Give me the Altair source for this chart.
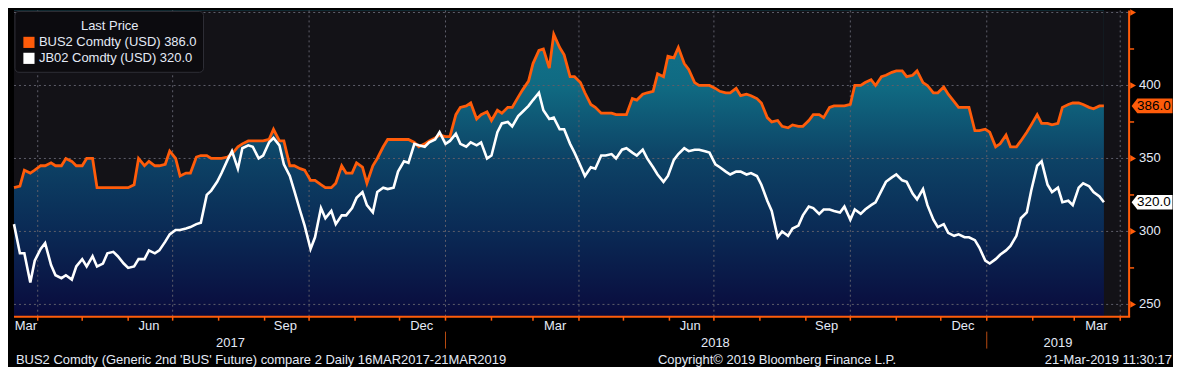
import altair as alt
import pandas as pd

# ---------------- data: readings twice a week (Thu / Mon), 16 Mar 2017 .. 21 Mar 2019 ----------------
start_date = "2017-03-16"
bus2 = [330, 331, 342, 340, 342, 345, 345, 347, 345, 345, 350, 348, 345, 345, 350, 350,
        330, 330, 330, 330, 330, 330, 330, 332, 350, 345, 348, 345, 345, 346, 355, 350,
        338, 340, 340, 351, 352, 352, 350, 350, 350, 351, 353, 358, 360, 362, 362, 362,
        362, 363, 370, 362, 362, 345, 345, 343, 342, 335, 335, 332, 330, 330, 333, 345,
        340, 340, 347, 344, 333, 345, 350, 358, 363, 363, 363, 363, 363, 361, 358, 360,
        362, 364, 366, 365, 365, 380, 385, 386, 388, 377, 380, 382, 376, 383, 381, 385,
        385, 392, 397, 403, 415, 424, 425, 412, 435, 426, 421, 406, 406, 402, 395, 387,
        385, 381, 381, 381, 380, 380, 380, 391, 390, 394, 395, 396, 408, 406, 420, 419,
        426, 415, 411, 402, 400, 400, 400, 398, 396, 395, 395, 398, 393, 394, 393, 391,
        388, 378, 375, 376, 372, 371, 373, 372, 372, 376, 380, 380, 378, 385, 386, 386,
        386, 387, 400, 400, 402, 404, 400, 406, 407, 409, 410, 410, 406, 407, 410, 402,
        400, 395, 395, 399, 394, 389, 385, 385, 385, 369, 369, 370, 368, 358, 360, 366,
        358, 358, 362, 368, 373, 380, 374, 374, 373, 374, 385, 387, 388, 388, 387, 385,
        384, 386, 386]
jb02 = [305, 285, 285, 265, 280, 288, 292, 277, 270, 268, 270, 267, 276, 281, 276, 283,
        276, 278, 285, 286, 283, 278, 275, 276, 281, 281, 287, 285, 287, 293, 298, 301,
        301, 302, 303, 305, 306, 325, 328, 334, 340, 349, 355, 343, 357, 359, 358, 350,
        352, 361, 364, 359, 346, 338, 328, 314, 304, 288, 296, 316, 309, 314, 305, 311,
        311, 316, 323, 327, 318, 313, 327, 330, 329, 330, 341, 348, 347, 360, 359, 358,
        361, 363, 368, 360, 362, 367, 360, 358, 361, 359, 361, 350, 352, 368, 374, 375,
        372, 379, 382, 386, 390, 395, 383, 377, 378, 370, 370, 360, 354, 345, 338, 344,
        343, 352, 352, 353, 350, 356, 357, 354, 352, 356, 350, 344, 339, 334, 338, 349,
        353, 357, 355, 356, 356, 355, 354, 346, 344, 341, 339, 341, 341, 339, 340, 338,
        332, 321, 314, 296, 300, 297, 302, 304, 311, 317, 316, 312, 315, 315, 314, 313,
        317, 308, 315, 312, 315, 318, 320, 328, 334, 337, 339, 335, 334, 326, 322, 329,
        318, 308, 303, 305, 299, 297, 298, 296, 296, 294, 289, 280, 278, 281, 284, 287,
        290, 297, 309, 313, 328, 345, 348, 332, 327, 330, 320, 321, 318, 330, 333, 331,
        327, 324, 320]
thursdays = pd.date_range(start_date, periods=106, freq="7D")
mondays = pd.date_range("2017-03-20", periods=105, freq="7D")
dates = thursdays.append(mondays).sort_values()

y_min, y_max = 241.6, 451.4
grid_dates = ["2017-04-01", "2017-07-01", "2017-10-01", "2018-01-01", "2018-04-01",
              "2018-07-01", "2018-10-01", "2019-01-01", "2019-04-01"]
y_grid = [250, 300, 350, 400, 450]
y_labels = [250, 300, 350, 400]
y_minor = [275, 325, 375, 425]
month_tick_dates = pd.date_range("2017-04-01", "2019-04-01", freq="MS")
month_label_dates = ["2017-03-24", "2017-06-15", "2017-09-15", "2017-12-16", "2018-03-16",
                     "2018-06-15", "2018-09-15", "2018-12-16", "2019-03-16"]
month_labels = ["Mar", "Jun", "Sep", "Dec", "Mar", "Jun", "Sep", "Dec", "Mar"]
year_label_dates = ["2017-08-09", "2018-07-02", "2019-02-18"]
year_labels = ["2017", "2018", "2019"]
year_break_dates = ["2018-01-01", "2019-01-01"]

names = ["BUS2 Comdty (USD)", "JB02 Comdty (USD)"]
footer_left = "BUS2 Comdty (Generic 2nd 'BUS' Future) compare 2  Daily 16MAR2017-21MAR2019"
footer_mid = "Copyright\u00a9 2019 Bloomberg Finance L.P."
footer_right = "21-Mar-2019 11:30:17"

# ---------------- styling ----------------
W, H = 1118, 307
ORANGE = "#ff5c0a"
WHITE = "#ffffff"
TXT = "#e4eaf6"
GRID = "#5e5e6a"
BG = "#131217"
FONT = "Liberation Sans"
FS = 13

df = pd.DataFrame({"date": dates, "BUS2": bus2, "JB02": jb02})
df["top"] = y_max
one = pd.DataFrame({"k": [0]})
span = pd.DataFrame({"start": [dates[0]], "end": [dates[-1]]})

XS = alt.Scale(domain=[alt.DateTime(year=2017, month=3, date=16),
                       alt.DateTime(year=2019, month=4, date=7)])
YS = alt.Scale(domain=[y_min, y_max], zero=False, nice=False)


def X(field="date"):
    return alt.X(f"{field}:T", scale=XS, axis=None)


def Y(field):
    return alt.Y(f"{field}:Q", scale=YS, axis=None)


# vertical gradient over the whole plot height (Bloomberg style), masked above the line
grad = alt.Gradient(
    gradient="linear",
    stops=[alt.GradientStop(color="#12768e", offset=0),
           alt.GradientStop(color="#106a82", offset=0.25),
           alt.GradientStop(color="#0d4366", offset=0.48),
           alt.GradientStop(color="#0a2a55", offset=0.72),
           alt.GradientStop(color="#0a0f40", offset=0.96),
           alt.GradientStop(color="#08093a", offset=1)],
    x1=0, x2=0, y1=0, y2=1)

fill_rect = alt.Chart(span).mark_rect(fill=grad).encode(
    x=X("start"), x2="end:T", y=alt.value(0), y2=alt.value(H))
mask = alt.Chart(df).mark_area(fill=BG, opacity=1).encode(
    x=X(), y=Y("BUS2"), y2="top:Q")

vgrid = alt.Chart(pd.DataFrame({"date": pd.to_datetime(grid_dates)})).mark_rule(
    color=GRID, strokeDash=[2, 3], strokeWidth=1).encode(
    x=X(), y=alt.value(0), y2=alt.value(H))

hgrid = alt.Chart(pd.DataFrame({"v": y_grid})).mark_rule(
    color=GRID, strokeDash=[2, 3], strokeWidth=1).encode(
    y=Y("v"), x=alt.value(0), x2=alt.value(W))

line_o = alt.Chart(df).mark_line(color=ORANGE, strokeWidth=2.8).encode(x=X(), y=Y("BUS2"))
line_w = alt.Chart(df).mark_line(color=WHITE, strokeWidth=2.6).encode(x=X(), y=Y("JB02"))

# axes drawn by hand
x_axis = alt.Chart(one).mark_rule(color=ORANGE, strokeWidth=2).encode(
    x=alt.value(0), x2=alt.value(W + 1), y=alt.value(H))
y_axis = alt.Chart(one).mark_rule(color=ORANGE, strokeWidth=2).encode(
    x=alt.value(W), y=alt.value(0), y2=alt.value(H))

mticks = alt.Chart(pd.DataFrame({"date": month_tick_dates})).mark_rule(
    color=ORANGE, strokeWidth=1.5).encode(x=X(), y=alt.value(H), y2=alt.value(H + 4))

mlabels = alt.Chart(pd.DataFrame({"date": pd.to_datetime(month_label_dates), "t": month_labels})).mark_text(
    font=FONT, fontSize=FS, color=TXT, baseline="middle", align="center").encode(
    x=X(), y=alt.value(H + 9), text="t:N")

ylab = alt.Chart(pd.DataFrame({"date": pd.to_datetime(year_label_dates), "t": year_labels})).mark_text(
    font=FONT, fontSize=FS, color=TXT, baseline="middle", align="center").encode(
    x=X(), y=alt.value(H + 26), text="t:N")

ybreak = alt.Chart(pd.DataFrame({"date": pd.to_datetime(year_break_dates)})).mark_rule(
    color="#b84a10", strokeWidth=1).encode(x=X(), y=alt.value(H + 15), y2=alt.value(H + 32))

ytri = alt.Chart(pd.DataFrame({"v": y_grid})).mark_point(
    shape="triangle-right", filled=True, color=ORANGE, size=45, opacity=1).encode(
    y=Y("v"), x=alt.value(W + 4))

yminor = alt.Chart(pd.DataFrame({"v": y_minor})).mark_rule(color=ORANGE, strokeWidth=1.5).encode(
    y=Y("v"), x=alt.value(W), x2=alt.value(W + 5))

ytext = alt.Chart(pd.DataFrame({"v": y_labels})).mark_text(
    font=FONT, fontSize=FS, color=TXT, align="left", baseline="middle").encode(
    y=Y("v"), x=alt.value(W + 10), text="v:Q")

# last-value tags
last = pd.DataFrame({"v": [bus2[-1], jb02[-1]],
                     "fill": [ORANGE, WHITE],
                     "t": [f"{bus2[-1]:.1f}", f"{jb02[-1]:.1f}"]})
tag_shape = "M-1,0 L-0.72,-0.36 L1,-0.36 L1,0.36 L-0.72,0.36 Z"
tags = alt.Chart(last).mark_point(shape=tag_shape, filled=True, size=1681, opacity=1).encode(
    y=Y("v"), x=alt.value(W + 23), fill=alt.Fill("fill:N", scale=None), stroke=alt.value(None))
tag_text = alt.Chart(last).mark_text(
    font=FONT, fontSize=13.5, color="#000000", align="left", baseline="middle").encode(
    y=Y("v"), x=alt.value(W + 8), text="t:N")

# legend box
leg_box = alt.Chart(one).mark_rect(fill="#0c0b0f", stroke="#2e2e36", strokeWidth=1, cornerRadius=4).encode(
    x=alt.value(1), x2=alt.value(190), y=alt.value(1), y2=alt.value(62))
leg_title = alt.Chart(one).mark_text(text="Last Price", font=FONT, fontSize=FS, color=TXT,
                                     align="center", baseline="middle").encode(
    x=alt.value(96), y=alt.value(16))
leg_layers = []
for i, (nm, val, col) in enumerate(zip(names, [bus2[-1], jb02[-1]], [ORANGE, WHITE])):
    yy = 32 + 16 * i
    leg_layers.append(alt.Chart(one).mark_square(size=125, filled=True, color=col, opacity=1).encode(
        x=alt.value(15), y=alt.value(yy)))
    leg_layers.append(alt.Chart(one).mark_text(text=f"{nm} {val:.1f}", font=FONT, fontSize=FS, color=TXT,
                                               align="left", baseline="middle").encode(
        x=alt.value(25), y=alt.value(yy)))

# footer
foot = []
for txt, xx, al in [(footer_left, 2, "left"), (footer_mid, 765, "center"), (footer_right, W + 43, "right")]:
    foot.append(alt.Chart(one).mark_text(text=txt, font=FONT, fontSize=FS, color=TXT,
                                         align=al, baseline="middle").encode(
        x=alt.value(xx), y=alt.value(H + 43)))

chart = alt.layer(
    fill_rect, mask, vgrid, hgrid, line_o, line_w,
    x_axis, y_axis, mticks, mlabels, ylab, ybreak,
    yminor, ytri, ytext, tags, tag_text,
    leg_box, leg_title, *leg_layers, *foot
).properties(
    width=W, height=H,
    padding={"left": 0, "top": 0, "right": 0, "bottom": 0},
    background="#000000",
).configure_view(fill=BG, stroke=None)

chart.save("out.html", embed_options={"renderer": "svg", "actions": False})
